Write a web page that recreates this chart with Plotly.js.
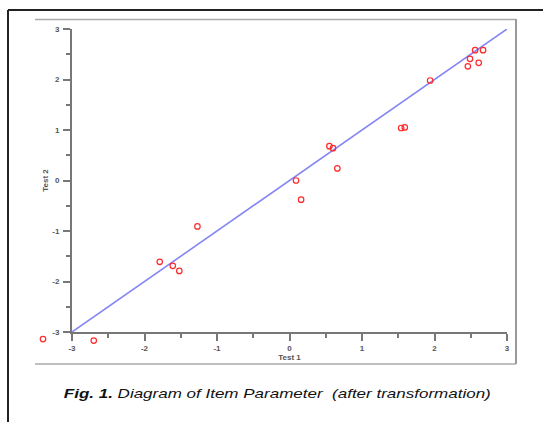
<!DOCTYPE html>
<html>
<head>
<meta charset="utf-8">
<script src="https://cdn.plot.ly/plotly-3.0.1.min.js"></script>
<style>
html,body{margin:0;padding:0;background:#fff;}
#chart{width:543px;height:422px;}
</style>
</head>
<body>
<div id="chart"></div>
<script>
// Item parameters: Test 1 (x) vs Test 2 (y)
const test1 = [2.56, 2.67, 2.49, 2.61, 2.46, 1.94, 1.54, 1.59, 0.55, 0.60, 0.66, 0.09, 0.16, -1.27, -1.79, -1.61, -1.52, -3.40, -2.70];
const test2 = [2.58, 2.58, 2.41, 2.33, 2.26, 1.98, 1.04, 1.05, 0.68, 0.64, 0.24, 0.00, -0.38, -0.91, -1.61, -1.69, -1.79, -3.14, -3.17];
// identity line
const lineX = [-3, 3];
const lineY = [-3, 3];
const tickVals = [-3, -2, -1, 0, 1, 2, 3];
const tickText = ["-3", "-2", "-1", "0", "1", "2", "3"];
const xTitle = "Test 1";
const yTitle = "Test 2";
const caption = "<b><i>Fig. 1.</i></b><i> Diagram of Item Parameter  (after transformation)</i>";

// full plotting region (pixels) and axis region (pixels)
const FL = 30, FR = 515, FT = 20, FB = 350;
const L = 72, R = 507, T = 29, B = 332;
const W = FR - FL, H = FB - FT;
const px = v => (v - FL) / W;
const py = v => (FB - v) / H;
const sx = (R - L) / 6, sy = (B - T) / 6;
const x2range = [-3 - (L - FL) / sx, 3 + (FR - R) / sx];
const y2range = [-3 - (FB - B) / sy, 3 + (T - FT) / sy];

const font = 'Liberation Sans, Arial, sans-serif';
const traces = [
  {
    x: lineX, y: lineY, type: 'scatter', mode: 'lines', xaxis: 'x', yaxis: 'y',
    line: {color: '#8585f5', width: 1.6},
    hoverinfo: 'skip', cliponaxis: false
  },
  {
    x: test1, y: test2, type: 'scatter', mode: 'markers', xaxis: 'x2', yaxis: 'y2',
    marker: {symbol: 'circle-open', size: 5.5, color: '#ff2a2a', line: {width: 1.2, color: '#ff2a2a'}},
    cliponaxis: false
  }
];

const axisCommon = {
  range: [-3, 3],
  tickvals: tickVals, ticktext: tickText,
  ticks: 'outside', ticklen: 7, tickwidth: 2, tickcolor: '#777',
  showline: true, linecolor: '#777', linewidth: 2,
  showgrid: false, zeroline: false,
  tickfont: {family: font, size: 8, color: '#555', weight: 'bold'},
  minor: {dtick: 0.5, ticks: 'outside', ticklen: 4, tickwidth: 2, tickcolor: '#777', showgrid: false},
  fixedrange: true
};
const hidden = {showline: false, showgrid: false, zeroline: false, showticklabels: false, ticks: '', fixedrange: true};

const layout = {
  width: 543, height: 422,
  margin: {l: FL, r: 543 - FR, t: FT, b: 422 - FB, pad: 0},
  paper_bgcolor: '#fff', plot_bgcolor: 'rgba(0,0,0,0)',
  showlegend: false,
  xaxis: Object.assign({}, axisCommon, {
    domain: [px(L), px(R)], anchor: 'y',
    title: {text: xTitle, standoff: 0, font: {family: font, size: 8, color: '#555', weight: 'bold'}}
  }),
  yaxis: Object.assign({}, axisCommon, {
    domain: [py(B), py(T)], anchor: 'x',
    ticklabelstandoff: 2,
    title: {text: yTitle, standoff: 2, font: {family: font, size: 8, color: '#555', weight: 'bold'}}
  }),
  xaxis2: Object.assign({}, hidden, {domain: [0, 1], range: x2range, anchor: 'y2'}),
  yaxis2: Object.assign({}, hidden, {domain: [0, 1], range: y2range, anchor: 'x2'}),
  shapes: [
    // black outer frame (top and left)
    {type: 'line', xref: 'paper', yref: 'paper', x0: px(8), x1: px(545), y0: py(10), y1: py(10), line: {color: '#222', width: 2}},
    {type: 'line', xref: 'paper', yref: 'paper', x0: px(8), x1: px(8), y0: py(10), y1: py(424), line: {color: '#222', width: 2}},
    // grey inner frame (top, right, bottom)
    {type: 'line', xref: 'paper', yref: 'paper', x0: px(35), x1: px(516), y0: py(19.5), y1: py(19.5), line: {color: '#aaa', width: 1.5}},
    {type: 'line', xref: 'paper', yref: 'paper', x0: px(516), x1: px(516), y0: py(19), y1: py(364), line: {color: '#999', width: 2}},
    {type: 'line', xref: 'paper', yref: 'paper', x0: px(35), x1: px(516), y0: py(364), y1: py(364), line: {color: '#aaa', width: 1.5}}
  ],
  annotations: [
    {text: caption, xref: 'paper', yref: 'paper', x: px(277), y: py(393), xanchor: 'center', yanchor: 'middle',
     showarrow: false, font: {family: font, size: 13, color: '#111'}}
  ]
};

Plotly.newPlot('chart', traces, layout, {staticPlot: true, displayModeBar: false}).then(function(gd) {
  // stretch caption horizontally like the reference figure
  const t = gd.querySelector('.annotation-text');
  if (t) {
    t.setAttribute('textLength', '427');
    t.setAttribute('lengthAdjust', 'spacingAndGlyphs');
  }
});
</script>
</body>
</html>
